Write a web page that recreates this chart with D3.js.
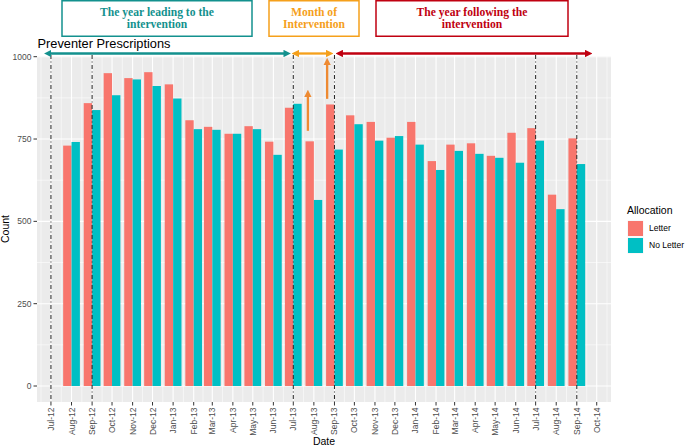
<!DOCTYPE html>
<html><head><meta charset="utf-8">
<script src="https://cdn.jsdelivr.net/npm/d3@7/dist/d3.min.js"></script>
<style>body{margin:0;background:#fff}svg{display:block}</style>
</head><body>
<svg id="c" width="685" height="447"></svg>
<script>
// ---- data ----
const months = ["2012-08","2012-09","2012-10","2012-11","2012-12","2013-01","2013-02","2013-03","2013-04","2013-05","2013-06","2013-07","2013-08","2013-09","2013-10","2013-11","2013-12","2014-01","2014-02","2014-03","2014-04","2014-05","2014-06","2014-07","2014-08","2014-09"];
const letter   = [730,859,950,935,953,916,807,787,766,789,742,845,743,855,822,802,754,802,683,733,737,699,769,783,581,752];
const noLetter = [741,838,883,931,911,873,780,778,766,780,702,857,565,718,795,745,759,733,656,714,705,693,678,745,537,674];
const seriesNames = ["Letter","No Letter"];
const seriesColors = ["#F8766D","#00BFC4"];
const tickMonths = ["2012-07","2012-08","2012-09","2012-10","2012-11","2012-12","2013-01","2013-02","2013-03","2013-04","2013-05","2013-06","2013-07","2013-08","2013-09","2013-10","2013-11","2013-12","2014-01","2014-02","2014-03","2014-04","2014-05","2014-06","2014-07","2014-08","2014-09","2014-10"];
const yTicks = [0,250,500,750,1000];
const yMinor = [125,375,625,875];
const vlineMonths = ["2012-07","2012-09","2013-07","2013-09","2014-07","2014-09"];

const P = s => new Date(s.length===7 ? s+"-01T00:00:00Z" : s+"T00:00:00Z");
const fmt = d3.utcFormat("%b-%y");
const DAY = 864e5;

const svg = d3.select("#c");
const L=37, R=611, T=56, B=402;
const x = d3.scaleUtc().domain([P("2012-06-10"), new Date(P("2014-10-22").getTime()+12*3600e3)]).range([L,R]);
const y = d3.scaleLinear().domain([0,1000]).range([386,56.7]);

// panel
svg.append("rect").attr("x",L).attr("y",T).attr("width",R-L).attr("height",B-T).attr("fill","#EBEBEB");
const g = svg.append("g");
// minor x grid (mid-months)
const ticks = tickMonths.map(P);
const minorX = [];
for (let i=-1;i<ticks.length;i++){
  const a = i<0 ? d3.utcMonth.offset(ticks[0],-1) : ticks[i];
  const b = d3.utcMonth.offset(a,1);
  const m = new Date((a.getTime()+b.getTime())/2);
  if (x(m)>L && x(m)<R) minorX.push(m);
}
g.selectAll(".mx").data(minorX).join("line").attr("x1",d=>x(d)).attr("x2",d=>x(d)).attr("y1",T).attr("y2",B).attr("stroke","#fff").attr("stroke-width",0.55);
g.selectAll(".my").data(yMinor).join("line").attr("x1",L).attr("x2",R).attr("y1",d=>y(d)).attr("y2",d=>y(d)).attr("stroke","#fff").attr("stroke-width",0.55);
g.selectAll(".Mx").data(ticks).join("line").attr("x1",d=>x(d)).attr("x2",d=>x(d)).attr("y1",T).attr("y2",B).attr("stroke","#fff").attr("stroke-width",1.1);
g.selectAll(".My").data(yTicks).join("line").attr("x1",L).attr("x2",R).attr("y1",d=>y(d)).attr("y2",d=>y(d)).attr("stroke","#fff").attr("stroke-width",1.1);

// bars
const halfW = 12.6*DAY;
const bars = [];
months.forEach((m,i)=>{
  const d = P(m);
  bars.push({x0:new Date(d-halfW), x1:d, v:letter[i], s:0});
  bars.push({x0:d, x1:new Date(d.getTime()+halfW), v:noLetter[i], s:1});
});
svg.append("g").selectAll("rect").data(bars).join("rect")
  .attr("x",d=>x(d.x0)).attr("width",d=>x(d.x1)-x(d.x0))
  .attr("y",d=>y(d.v)).attr("height",d=>y(0)-y(d.v))
  .attr("fill",d=>seriesColors[d.s]);

// dash-dot lines
svg.append("g").selectAll("line").data(vlineMonths.map(P)).join("line")
  .attr("x1",d=>x(d)).attr("x2",d=>x(d)).attr("y1",55).attr("y2",B)
  .attr("stroke","#222").attr("stroke-width",1).attr("stroke-dasharray","4,2.5,1,2.5");

// axes
const ax = svg.append("g");
ax.selectAll(".yt").data(yTicks).join("line").attr("x1",33.5).attr("x2",L).attr("y1",d=>y(d)).attr("y2",d=>y(d)).attr("stroke","#333").attr("stroke-width",1);
ax.selectAll(".yl").data(yTicks).join("text").attr("x",31.5).attr("y",d=>y(d)).attr("dy","0.35em")
  .attr("text-anchor","end").attr("font-family","Liberation Sans, Arial, sans-serif").attr("font-size",8.5).attr("fill","#4D4D4D").text(d=>d);
ax.selectAll(".xt").data(ticks).join("line").attr("x1",d=>x(d)).attr("x2",d=>x(d)).attr("y1",B).attr("y2",B+3.5).attr("stroke","#333").attr("stroke-width",1);
ax.selectAll(".xl").data(ticks).join("text")
  .attr("transform",d=>`translate(${x(d)},${B+5.5}) rotate(-90)`).attr("dy","0.35em")
  .attr("text-anchor","end").attr("font-family","Liberation Sans, Arial, sans-serif").attr("font-size",8.5).attr("fill","#4D4D4D").text(d=>fmt(d));
svg.append("text").attr("x",(L+R)/2).attr("y",445).attr("text-anchor","middle").attr("font-family","Liberation Sans, Arial, sans-serif").attr("font-size",10.5).attr("fill","#000").text("Date");
svg.append("text").attr("transform",`translate(9,229) rotate(-90)`).attr("text-anchor","middle").attr("font-family","Liberation Sans, Arial, sans-serif").attr("font-size",10.5).attr("fill","#000").text("Count");
svg.append("text").attr("x",37.5).attr("y",48).attr("font-family","Liberation Sans, Arial, sans-serif").attr("font-size",12.8).attr("fill","#000").text("Preventer Prescriptions");

// legend
const lg = svg.append("g");
lg.append("text").attr("x",627).attr("y",214).attr("font-family","Liberation Sans, Arial, sans-serif").attr("font-size",10.5).attr("fill","#000").text("Allocation");
seriesNames.forEach((n,i)=>{
  lg.append("rect").attr("x",627.5).attr("y",220.5+i*17).attr("width",16).attr("height",16).attr("fill","#F2F2F2");
  lg.append("rect").attr("x",628).attr("y",221+i*17).attr("width",15).attr("height",15).attr("fill",seriesColors[i]);
  lg.append("text").attr("x",649).attr("y",228.5+i*17).attr("dy","0.35em").attr("font-family","Liberation Sans, Arial, sans-serif").attr("font-size",8.5).attr("fill","#000").text(n);
});

// annotations
const defs = svg.append("defs");
function marker(id,color){
  defs.append("marker").attr("id",id).attr("viewBox","0 0 10 10").attr("refX",2).attr("refY",5)
    .attr("markerWidth",3.2).attr("markerHeight",3.2).attr("orient","auto-start-reverse").attr("markerUnits","strokeWidth")
    .append("path").attr("d","M0,0L10,5L0,10z").attr("fill",color);
}
const teal="#13918E", orange="#F5A01B", red="#C00010", orange2="#EE8A32";
marker("mt",teal); marker("mo",orange); marker("mr",red); marker("mo2",orange2);
function harrow(d0,d1,color,id){
  svg.append("line").attr("x1",x(P(d0))+5).attr("x2",x(P(d1))-5).attr("y1",53.5).attr("y2",53.5)
    .attr("stroke",color).attr("stroke-width",2.3).attr("marker-start",`url(#${id})`).attr("marker-end",`url(#${id})`);
}
harrow("2012-06-22","2013-06-26",teal,"mt");
harrow("2013-06-30","2013-08-29",orange,"mo");
harrow("2013-09-04","2014-09-23",red,"mr");
function varrow(d,v0,v1){
  svg.append("line").attr("x1",x(P(d))).attr("x2",x(P(d))).attr("y1",y(v0)).attr("y2",y(v1)+5)
    .attr("stroke",orange2).attr("stroke-width",2.3).attr("marker-end","url(#mo2)");
}
varrow("2013-07-23",775,897);
varrow("2013-08-21",872,994);

function box(x0,x1,color,lines){
  svg.append("rect").attr("x",x0).attr("y",0.75).attr("width",x1-x0).attr("height",35.5).attr("fill","#fff").attr("stroke",color).attr("stroke-width",1.5);
  lines.forEach((t,i)=>svg.append("text").attr("x",(x0+x1)/2).attr("y",15.5+i*12.5).attr("text-anchor","middle")
    .attr("font-family","Liberation Serif, Times New Roman, serif").attr("font-weight","bold").attr("font-size",11.6).attr("fill",color).text(t));
}
box(62,252,teal,["The year leading to the","intervention"]);
box(269,359,orange,["Month of","Intervention"]);
box(376,568,red,["The year following the","intervention"]);
</script>
</body></html>
